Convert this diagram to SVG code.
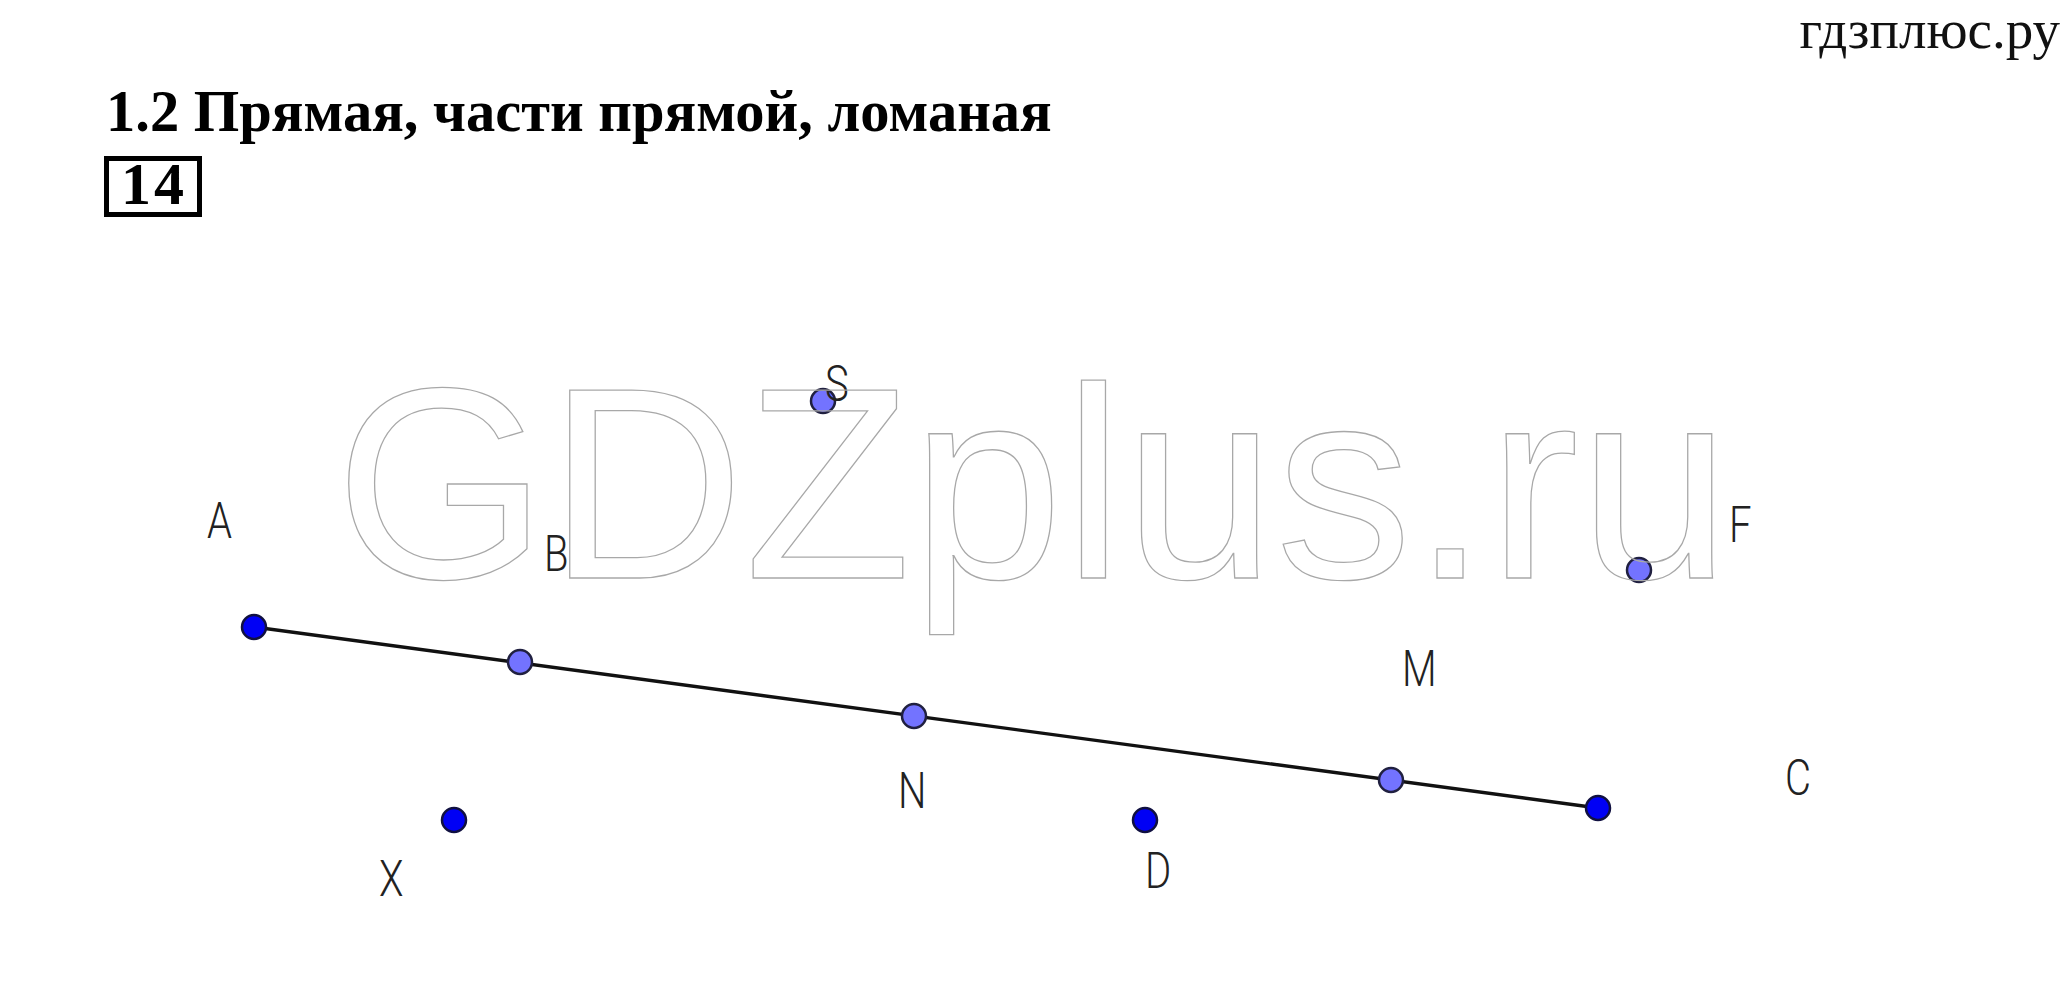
<svg xmlns="http://www.w3.org/2000/svg" width="2071" height="1004" viewBox="0 0 2071 1004">
<style>
.title{font-family:"Liberation Serif","Times New Roman",serif;font-weight:bold;font-size:58.5px;fill:#000}
.num{font-family:"Liberation Serif","Times New Roman",serif;font-weight:bold;font-size:60px;letter-spacing:3px;fill:#000}
.site{font-family:"Liberation Serif","Times New Roman",serif;font-size:55px;fill:#111}
.lbl{font-family:Roboto,"Liberation Sans",Arial,sans-serif;font-weight:300;font-size:50px;fill:#222}
.ptd{fill:#0000f5;stroke:#101040;stroke-width:2.5}
.ptl{fill:#7373ff;stroke:#202040;stroke-width:2.5}
.wm{font-family:"Liberation Sans",Arial,sans-serif;font-size:273px;fill:none;stroke:#a8a8a8;stroke-width:1.3}
</style>
<rect width="2071" height="1004" fill="#fff"/>
<g id="header">
<text class="site" x="2060" y="48" text-anchor="end">гдзплюс.ру</text>
<text class="title" x="106" y="131">1.2 Прямая, части прямой, ломаная</text>
<rect x="106.5" y="158.5" width="93" height="56" fill="none" stroke="#000" stroke-width="5"/>
<text class="num" x="121" y="204">14</text>
</g>
<g id="connectors">
<line x1="254" y1="627" x2="1598" y2="808" stroke="#111" stroke-width="3.4"/>
</g>
<g id="node-A"><circle class="ptd" cx="254" cy="627" r="12"/><text class="lbl" transform="translate(207,538) scale(0.8,1)">A</text></g>
<g id="node-B"><circle class="ptl" cx="520" cy="662" r="12"/><text class="lbl" transform="translate(544,571) scale(0.8,1)">B</text></g>
<g id="node-N"><circle class="ptl" cx="914" cy="716" r="12"/><text class="lbl" transform="translate(898,808) scale(0.8,1)">N</text></g>
<g id="node-M"><circle class="ptl" cx="1391" cy="780" r="12"/><text class="lbl" transform="translate(1402,686) scale(0.8,1)">M</text></g>
<g id="node-C"><circle class="ptd" cx="1598" cy="808" r="12"/><text class="lbl" transform="translate(1785,795) scale(0.8,1)">C</text></g>
<g id="node-S"><circle class="ptl" cx="823" cy="401" r="12"/><text class="lbl" transform="translate(825,401) scale(0.8,1)">S</text></g>
<g id="node-F"><circle class="ptl" cx="1639" cy="570" r="12"/><text class="lbl" transform="translate(1729,542) scale(0.8,1)">F</text></g>
<g id="node-X"><circle class="ptd" cx="454" cy="820" r="12"/><text class="lbl" transform="translate(379,896) scale(0.8,1)">X</text></g>
<g id="node-D"><circle class="ptd" cx="1145" cy="820" r="12"/><text class="lbl" transform="translate(1145,888) scale(0.8,1)">D</text></g>
<g id="watermark"><text class="wm" x="335" y="578">GDZplus.ru</text></g>
</svg>
